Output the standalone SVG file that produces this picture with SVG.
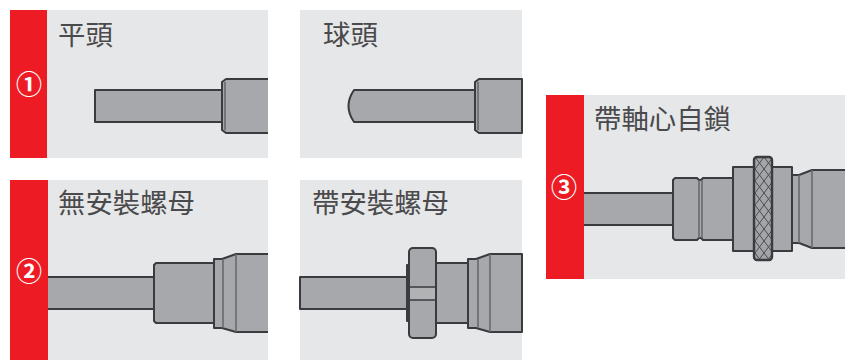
<svg xmlns="http://www.w3.org/2000/svg" width="845" height="360" viewBox="0 0 845 360">
<style>
.panel{fill:#e6e7e8}
.red{fill:#ed1c24}
.m{fill:#a7a8ab;stroke:#3a3b3f;stroke-width:2;stroke-linejoin:round}
.f{fill:#a7a8ab}
.e{fill:none;stroke:#3a3b3f;stroke-width:2;stroke-linejoin:round}
.l{fill:none;stroke:#68696c;stroke-width:1.6}
.t{font-family:"Noto Sans CJK TC","Noto Sans CJK SC",sans-serif;font-size:27.4px;fill:#4a4a4c}
.n{font-family:"Noto Sans CJK TC","Noto Sans CJK SC",sans-serif;font-size:26px;font-weight:700;fill:#fff;text-anchor:middle}
</style>
<defs>
<pattern id="knurl" width="9" height="12" patternUnits="userSpaceOnUse" x="755" y="157">
<rect width="9" height="12" fill="#a4a5a8"/>
<path d="M0 0L9 12M9 0L0 12" stroke="#4a4b4f" stroke-width="1"/>
</pattern>
</defs>
<g id="node-flat">
<rect class="panel" x="10" y="10" width="258" height="148"/>
<rect class="red" x="10" y="10" width="37" height="148"/>
<text class="n" x="29" y="94">①</text>
<text class="t" x="58" y="45">平頭</text>
<rect class="m" x="95" y="90" width="128" height="32"/>
<path class="f" d="M268 79H226L222 82V130L226 133H268Z"/>
<path class="e" d="M268 79H226L222 82V130L226 133H268"/>
<path class="l" d="M225 82V130"/>
</g>
<g id="node-ball">
<rect class="panel" x="300" y="10" width="222" height="148"/>
<text class="t" x="323" y="45">球頭</text>
<path class="m" d="M475 90H354Q343 106 354 122H475Z"/>
<path class="m" d="M522 79H479L475 82V130L479 133H522Z"/>
<path class="l" d="M478 82V130"/>
</g>
<g id="node-no-nut">
<rect class="panel" x="10" y="180" width="258" height="180"/>
<rect class="red" x="10" y="180" width="38" height="180"/>
<text class="n" x="29" y="281">②</text>
<text class="t" x="58" y="213">無安裝螺母</text>
<path class="f" d="M48 277H154V309H48Z"/>
<path class="e" d="M48 277H154M48 309H154"/>
<path class="m" d="M214 263H156L154 265V321L156 323H214Z"/>
<path class="f" d="M214 259H222L236 254H268V332H236L222 328H214Z"/>
<path class="e" d="M268 254H236L222 259H214V328H222L236 332H268"/>
<path class="l" d="M223 259V328M236 254V332"/>
</g>
<g id="node-nut">
<rect class="panel" x="300" y="180" width="222" height="180"/>
<text class="t" x="312" y="213">帶安裝螺母</text>
<path class="m" d="M300 277H409V309H300Z"/>
<rect class="m" x="407" y="265" width="3" height="56" style="fill:#58595b"/>
<rect class="m" x="436" y="263" width="32" height="60"/>
<path class="m" d="M468 259H476L490 254H522V332H490L476 328H468Z"/>
<path class="l" d="M478 259V328M490 254V332"/>
<rect class="m" x="409" y="248" width="27" height="90" rx="4"/>
<rect x="410" y="288" width="25" height="12" fill="#b1b2b4"/>
<path class="l" style="stroke:#3a3b3f" d="M410 287H435M410 300H435"/>
</g>
<g id="node-locking">
<rect class="panel" x="546" y="95" width="299" height="184"/>
<rect class="red" x="546" y="95" width="38" height="184"/>
<text class="n" x="564" y="197">③</text>
<text class="t" x="594" y="129">帶軸心自鎖</text>
<path class="f" d="M584 193H674V225H584Z"/>
<path class="e" d="M584 193H674M584 225H674"/>
<path class="m" d="M733 178H703L701 180H699L697 178H675L673 180V238L675 240H697L699 238H701L703 240H733Z"/>
<path class="l" d="M699 180V238M702 180V238"/>
<path class="f" d="M792 175H799L812 170H845V248H812L799 243H792Z"/>
<path class="e" d="M845 170H812L799 175H792V243H799L812 248H845"/>
<path class="l" d="M799 175V243M812 170V248"/>
<rect class="m" x="733" y="167" width="59" height="84"/>
<rect x="754" y="157" width="18" height="103" rx="3" fill="url(#knurl)" stroke="#3a3b3f" stroke-width="2.4"/>
</g>
<g id="connectors"></g>
</svg>
